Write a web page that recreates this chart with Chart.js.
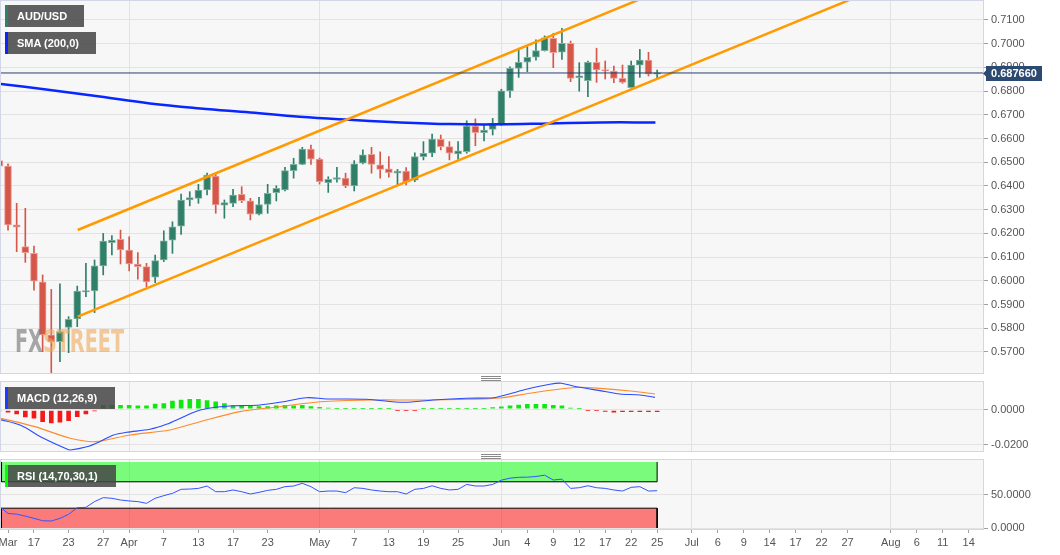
<!DOCTYPE html>
<html>
<head>
<meta charset="utf-8">
<title>AUD/USD</title>
<script src="https://cdn.jsdelivr.net/npm/chart.js@4.4.1/dist/chart.umd.min.js"></script>
<style>
  html, body { margin: 0; padding: 0; background: #fff; }
  body { position: relative; width: 1060px; height: 555px; overflow: hidden; font-family: "Liberation Sans", Arial, sans-serif; }
  canvas { position: absolute; left: 0; }
  .tag { position: absolute; left: 5px; height: 22px; line-height: 22px; box-sizing: border-box; padding-left: 9px; border-left: 3px solid; background: rgba(70,70,70,0.86); color: #fff; font-size: 11px; font-weight: bold; white-space: nowrap; }
  .grip { position: absolute; left: 481px; width: 20px; height: 3px; border-top: 1px solid #8a8a8a; border-bottom: 1px solid #8a8a8a; }
  .grip::after { content: ""; position: absolute; left: 0; right: 0; top: 1px; border-top: 1px solid #8a8a8a; }
</style>
</head>
<body>
<canvas id="main" width="1060" height="374" style="top:0"></canvas>
<canvas id="macd" width="1060" height="71" style="top:381px"></canvas>
<canvas id="rsi" width="1060" height="96" style="top:459px"></canvas>
<div class="tag" style="top:5px;width:79px;border-color:#2f7f69">AUD/USD</div>
<div class="tag" style="top:32px;width:91px;border-color:#0a26ff">SMA (200,0)</div>
<div class="tag" style="top:387px;width:110px;border-color:#1d3cff">MACD (12,26,9)</div>
<div class="tag" style="top:465px;width:111px;border-color:#00ff00">RSI (14,70,30,1)</div>
<div class="grip" style="top:376px"></div>
<div class="grip" style="top:454px"></div>
<script>
// daily candles, trading-day index: -1 = Mar 11, 0 = Mar 12 ... 75 = Jun 25
const firstDay = -1;
const opens = [0.6507, 0.6484, 0.6236, 0.6144, 0.6116, 0.5996, 0.5772, 0.5743, 0.5804, 0.5839,
  0.5953, 0.5958, 0.6063, 0.6161, 0.6175, 0.6130, 0.6071, 0.6060, 0.6015, 0.6088,
  0.6172, 0.6231, 0.6341, 0.6348, 0.6383, 0.6442, 0.6319, 0.6327, 0.6365, 0.6337,
  0.6281, 0.6322, 0.6372, 0.6383, 0.6465, 0.6491, 0.6556, 0.6513, 0.6414, 0.6428,
  0.6433, 0.6400, 0.6496, 0.6534, 0.6489, 0.6472, 0.6454, 0.6463, 0.6425, 0.6524,
  0.6538, 0.6597, 0.6566, 0.6535, 0.6545, 0.6653, 0.6625, 0.6639, 0.6657, 0.6801,
  0.6896, 0.6922, 0.6943, 0.6971, 0.7023, 0.6964, 0.7002, 0.6857, 0.6844, 0.6922,
  0.6889, 0.6885, 0.6854, 0.6815, 0.6910, 0.6931, 0.6872];
const highs = [0.6540, 0.6493, 0.6327, 0.6306, 0.6147, 0.6025, 0.5964, 0.5987, 0.5849, 0.5978,
  0.6074, 0.6088, 0.6200, 0.6191, 0.6214, 0.6186, 0.6119, 0.6074, 0.6109, 0.6211,
  0.6249, 0.6366, 0.6376, 0.6407, 0.6454, 0.6450, 0.6341, 0.6386, 0.6397, 0.6348,
  0.6352, 0.6407, 0.6401, 0.6479, 0.6517, 0.6563, 0.6573, 0.6518, 0.6439, 0.6479,
  0.6454, 0.6507, 0.6552, 0.6563, 0.6544, 0.6524, 0.6470, 0.6478, 0.6540, 0.6587,
  0.6619, 0.6615, 0.6587, 0.6587, 0.6675, 0.6683, 0.6657, 0.6685, 0.6808, 0.6903,
  0.6981, 0.6987, 0.7016, 0.7033, 0.7044, 0.7065, 0.7011, 0.6920, 0.6927, 0.6981,
  0.6927, 0.6906, 0.6910, 0.6927, 0.6976, 0.6964, 0.6889];
const lows = [0.6478, 0.6214, 0.6123, 0.6078, 0.5961, 0.5701, 0.5506, 0.5659, 0.5697, 0.5807,
  0.5933, 0.5866, 0.6025, 0.6109, 0.6071, 0.6042, 0.6007, 0.5975, 0.5992, 0.6081,
  0.6116, 0.6196, 0.6316, 0.6327, 0.6362, 0.6285, 0.6264, 0.6313, 0.6330, 0.6257,
  0.6278, 0.6285, 0.6337, 0.6379, 0.6433, 0.6490, 0.6491, 0.6408, 0.6373, 0.6416,
  0.6393, 0.6379, 0.6493, 0.6454, 0.6433, 0.6437, 0.6404, 0.6404, 0.6418, 0.6510,
  0.6524, 0.6552, 0.6510, 0.6513, 0.6538, 0.6570, 0.6590, 0.6615, 0.6655, 0.6774,
  0.6858, 0.6882, 0.6931, 0.6969, 0.6899, 0.6934, 0.6840, 0.6800, 0.6777, 0.6837,
  0.6851, 0.6836, 0.6833, 0.6812, 0.6858, 0.6864, 0.6851];
const closes = [0.6484, 0.6236, 0.6226, 0.6119, 0.5999, 0.5772, 0.5743, 0.5786, 0.5838, 0.5957,
  0.5958, 0.6063, 0.6168, 0.6172, 0.6130, 0.6071, 0.6060, 0.5996, 0.6085, 0.6169,
  0.6228, 0.6341, 0.6351, 0.6383, 0.6446, 0.6320, 0.6330, 0.6362, 0.6338, 0.6281,
  0.6322, 0.6369, 0.6390, 0.6465, 0.6491, 0.6556, 0.6513, 0.6418, 0.6428, 0.6435,
  0.6400, 0.6493, 0.6531, 0.6491, 0.6470, 0.6456, 0.6463, 0.6416, 0.6524, 0.6538,
  0.6598, 0.6566, 0.6538, 0.6548, 0.6653, 0.6625, 0.6636, 0.6664, 0.6801, 0.6896,
  0.6922, 0.6943, 0.6971, 0.7025, 0.6962, 0.7002, 0.6854, 0.6865, 0.6922, 0.6889,
  0.6885, 0.6854, 0.6837, 0.6910, 0.6931, 0.6872, 0.68766];
const lastPrice = 0.68766;

// 200-day SMA, read at a few points along the curve
const smaIdx = [-1, 4.85, 10.6, 16.4, 22.2, 28, 33.7, 39.5, 45.3, 51.1, 56.8, 62.6, 68.4, 74.8];
const smaVal = [0.6831, 0.6805, 0.6777, 0.6748, 0.6727, 0.6710, 0.6692, 0.6679, 0.6668, 0.6661, 0.6660, 0.6664, 0.6668, 0.6668];

// trend channel
const upperIdx = [8.05, 80];
const upperVal = [0.62144, 0.72922];
const lowerIdx = [8.05, 112];
const lowerVal = [0.58489, 0.74061];

// MACD (12,26,9)
const macdIdx = [-1, 1.4, 4.1, 6.8, 7.2, 9.1, 10.6, 12.2, 13.7, 16.4, 18.3, 20.3, 22.2, 24.5, 26.8, 29.1, 31.4,
  34.5, 36.8, 41.4, 45.7, 49.1, 53.0, 56.1, 57.6, 60, 62.6, 63.9, 65.7, 68.4, 70.7, 73, 74.75];
const macdVal = [-0.0055, -0.0087, -0.0162, -0.0223, -0.0228, -0.0210, -0.0181, -0.0143, -0.0128, -0.0111, -0.0083,
  -0.0040, -0.0002, 0.0017, 0.0023, 0.0027, 0.0042, 0.0068, 0.0061, 0.0059, 0.0042, 0.0055, 0.0065, 0.0068,
  0.0085, 0.0117, 0.0144, 0.0150, 0.0130, 0.0108, 0.0089, 0.0083, 0.0070];
const signalIdx = [-1, 3.1, 7.2, 10.1, 14.1, 18.7, 22.2, 26.8, 31.4, 36.1, 41.8, 47.6, 53.4, 56.8, 60.3, 63.8, 66.1, 68.4, 71.9, 74.75];
const signalVal = [-0.0047, -0.0096, -0.0162, -0.0181, -0.0143, -0.0115, -0.0068, -0.0011, 0.0017, 0.0045, 0.0055,
  0.0055, 0.0059, 0.0066, 0.0093, 0.0117, 0.0127, 0.0121, 0.0106, 0.0089];
const histVal = [-0.0012, -0.0019, -0.0030, -0.0047, -0.0053, -0.0074, -0.0081, -0.0077, -0.0068, -0.0045,
  -0.0030, -0.0011, 0.0030, 0.0030, 0.0030, 0.0030, 0.0028, 0.0028, 0.0037, 0.0040,
  0.0054, 0.0060, 0.0064, 0.0064, 0.0058, 0.0050, 0.0040, 0.0031, 0.0031, 0.0027,
  0.0024, 0.0024, 0.0027, 0.0030, 0.0027, 0.0030, 0.0024, 0.0019, 0.0015, 0.0010,
  0.0005, 0.0005, 0.0004, 0.0003, 0.0002, 0.0001, -0.0002, -0.0004, -0.0001, 0.0002,
  0.0004, 0.0003, 0.0004, 0.0005, 0.0006, 0.0008, 0.0010, 0.0018, 0.0022, 0.0027,
  0.0032, 0.0036, 0.0036, 0.0036, 0.0031, 0.0027, 0.0015, 0.0003, -0.0003, -0.0008,
  -0.0015, -0.0019, -0.0017, -0.0017, -0.0017, -0.0017, -0.0017];

// RSI (14)
const rsiVal = [33, 22, 21, 18, 14.6, 11, 10.6, 14.6, 20.7, 30.8,
  31.3, 40, 46, 45, 42.4, 41, 40, 37.4, 45, 49,
  52.5, 58.6, 59, 60, 63.6, 55, 55, 57.6, 55, 51.5,
  54, 57, 58.6, 62.6, 63.6, 67.7, 62.6, 55, 56, 56,
  53.5, 61, 60, 57.6, 56, 55, 55, 51.5, 58.6, 60,
  64, 60, 57.6, 58.6, 66, 63.6, 63.6, 66, 72.5, 75.5,
  76.8, 77, 78, 80, 72.7, 74, 60, 61, 64, 61,
  60, 57.6, 56, 61.6, 62.6, 56, 56.5];
const rsiHigh = 70, rsiLow = 30;

// axes
const priceTicks = [0.57, 0.58, 0.59, 0.60, 0.61, 0.62, 0.63, 0.64, 0.65, 0.66, 0.67, 0.68, 0.69, 0.70, 0.71];
const macdTicks = [-0.02, 0];
const rsiTicks = [0, 50];
const xTickIdx = [0, 3, 7, 11, 14, 18, 22, 26, 30, 36, 40, 44, 48, 52, 57, 60, 63, 66, 69, 72, 75,
  79, 82, 85, 88, 91, 94, 97, 102, 105, 108, 111];
const xTickTxt = ['Mar', '17', '23', '27', 'Apr', '7', '13', '17', '23', 'May', '7', '13', '19', '25', 'Jun', '4', '9', '12', '17', '22', '25',
  'Jul', '6', '9', '14', '17', '22', '27', 'Aug', '6', '11', '14'];
const monthIdx = [14, 36, 57, 79, 102];

const xMin = -0.81, xMax = 112.65;
const upCol = '#2f7f69', dnCol = '#d5574a';
const upEdge = '#7fb0a1', dnEdge = '#e9a197';

Chart.defaults.font.family = '"Liberation Sans", Arial, sans-serif';
Chart.defaults.font.size = 11;
Chart.defaults.color = '#555';

const dayIdx = opens.map((_, k) => firstDay + k);
const isUp = closes.map((c, k) => c >= opens[k]);
const pts = (xs, ys) => xs.map((x, k) => ({ x: x, y: ys[k] }));

const frame = {
  id: 'frame',
  beforeDraw(c) {
    const a = c.chartArea, g = c.ctx;
    g.save();
    g.fillStyle = '#f7f7f7';
    g.fillRect(a.left, a.top, a.right - a.left, a.bottom - a.top);
    g.restore();
  },
  afterDatasetsDraw(c) {
    const a = c.chartArea, g = c.ctx;
    g.save();
    g.strokeStyle = '#d3d6e6';
    g.lineWidth = 1;
    g.strokeRect(a.left - 0.5, a.top - 0.5, a.right - a.left + 1, a.bottom - a.top + 1);
    g.restore();
  }
};

function timeAxis(labels) {
  return {
    type: 'linear', min: xMin, max: xMax, offset: false,
    afterBuildTicks: s => { s.ticks = xTickIdx.map(v => ({ value: v })); },
    afterFit: s => { s.height = labels ? 26 : 0; s.paddingLeft = 0; s.paddingRight = 0; },
    border: { display: false },
    grid: {
      offset: false,
      color: c => (c.tick && monthIdx.includes(c.tick.value)) ? '#e2e2e2' : 'rgba(0,0,0,0)',
      drawTicks: labels, tickLength: 4, tickColor: '#a0a0a0'
    },
    ticks: {
      display: labels, autoSkip: false, maxRotation: 0, padding: 3, color: '#555',
      callback: v => xTickTxt[xTickIdx.indexOf(v)]
    }
  };
}

function sideAxis(min, max, ticks) {
  return {
    position: 'right', min: min, max: max, beginAtZero: false,
    afterBuildTicks: s => { s.ticks = ticks.map(v => ({ value: v })); },
    afterFit: s => { s.width = 77; s.paddingTop = 0; s.paddingBottom = 0; },
    border: { display: false },
    grid: { color: '#e3e3e3', tickLength: 5, tickColor: '#a0a0a0' },
    ticks: { padding: 3, color: '#555', callback: v => Number(v).toFixed(4) }
  };
}

const baseOpts = {
  responsive: false, animation: false, devicePixelRatio: 1, events: [],
  plugins: { legend: { display: false }, tooltip: { enabled: false } }
};

// ---------- price panel ----------
const mainExtras = {
  id: 'mainExtras',
  afterDatasetsDraw(c) {
    const g = c.ctx;
    g.save();
    g.font = 'bold 32px "DejaVu Sans Condensed", "DejaVu Sans", sans-serif';
    g.textBaseline = 'alphabetic';
    const w1 = g.measureText('FX').width, w2 = g.measureText('STREET').width;
    g.translate(15, 352);
    g.scale(109 / (w1 + w2), 1);
    g.fillStyle = 'rgba(115,115,120,0.62)';
    g.fillText('FX', 0, 0);
    g.fillStyle = 'rgba(238,165,85,0.58)';
    g.fillText('STREET', w1, 0);
    g.restore();
  },
  afterDraw(c) {
    const g = c.ctx, a = c.chartArea;
    const y = Math.round(c.scales.y.getPixelForValue(lastPrice));
    g.save();
    g.fillStyle = '#2c4a70';
    g.beginPath();
    g.moveTo(a.right, y + 0.5);
    g.lineTo(a.right + 4, y - 3.5);
    g.lineTo(a.right + 4, y + 4.5);
    g.closePath();
    g.fill();
    g.fillRect(a.right + 3, y - 7, 56, 15);
    g.fillStyle = '#fff';
    g.font = 'bold 11px "Liberation Sans", Arial, sans-serif';
    g.textAlign = 'center';
    g.textBaseline = 'middle';
    g.fillText(lastPrice.toFixed(6), a.right + 31, y + 1);
    g.restore();
  }
};

new Chart(document.getElementById('main'), {
  type: 'bar',
  data: {
    datasets: [
      { type: 'line', data: pts([-1, 113], [lastPrice, lastPrice]), borderColor: '#24416a', borderWidth: 1, pointRadius: 0, order: 0 },
      { type: 'line', data: pts(upperIdx, upperVal), borderColor: '#ff9a00', borderWidth: 2.5, pointRadius: 0, order: 1 },
      { type: 'line', data: pts(lowerIdx, lowerVal), borderColor: '#ff9a00', borderWidth: 2.5, pointRadius: 0, order: 1 },
      { type: 'line', data: pts(smaIdx, smaVal), borderColor: '#0a26ff', borderWidth: 2.5, pointRadius: 0, tension: 0.4, order: 2 },
      {
        data: dayIdx.map((x, k) => ({ x: x, y: [opens[k], closes[k]] })),
        backgroundColor: isUp.map(u => u ? upCol : dnCol),
        borderColor: isUp.map(u => u ? upEdge : dnEdge),
        borderWidth: 1, borderSkipped: false, barThickness: 7, minBarLength: 1.5, grouped: false, order: 3
      },
      {
        data: dayIdx.map((x, k) => ({ x: x, y: [lows[k], highs[k]] })),
        backgroundColor: isUp.map(u => u ? upCol : dnCol),
        barThickness: 1, grouped: false, order: 4
      }
    ]
  },
  options: Object.assign({}, baseOpts, {
    layout: { padding: { left: 1, top: 1, right: 0, bottom: 1 } },
    scales: { x: timeAxis(false), y: sideAxis(0.56114, 0.71801, priceTicks) }
  }),
  plugins: [frame, mainExtras]
});

// ---------- MACD panel ----------
new Chart(document.getElementById('macd'), {
  type: 'bar',
  data: {
    datasets: [
      { type: 'line', data: pts(macdIdx, macdVal), borderColor: '#2a4bff', borderWidth: 1.1, pointRadius: 0, tension: 0.3, order: 0 },
      { type: 'line', data: pts(signalIdx, signalVal), borderColor: '#ff8a2a', borderWidth: 1.1, pointRadius: 0, tension: 0.3, order: 1 },
      {
        data: dayIdx.map((x, k) => ({ x: x, y: histVal[k] })),
        backgroundColor: histVal.map(v => v >= 0 ? '#10e610' : '#f41a1a'),
        borderColor: 'rgba(255,255,255,0.35)', borderWidth: 1, borderSkipped: false,
        barThickness: 6, minBarLength: 1.5, order: 2
      }
    ]
  },
  options: Object.assign({}, baseOpts, {
    layout: { padding: { left: 1, top: 1, right: 0, bottom: 1 } },
    scales: { x: timeAxis(false), y: sideAxis(-0.0234, 0.01569, macdTicks) }
  }),
  plugins: [frame]
});

// ---------- RSI panel ----------
const bandStart = -0.75, bandEnd = dayIdx[dayIdx.length - 1];
new Chart(document.getElementById('rsi'), {
  type: 'line',
  data: {
    datasets: [
      { data: pts(dayIdx, rsiVal), borderColor: '#3355ff', borderWidth: 1, pointRadius: 0, tension: 0, order: 0 },
      {
        data: pts([bandStart, bandStart, bandEnd, bandEnd], [100, rsiHigh, rsiHigh, 100]),
        borderColor: '#000', borderWidth: 1, pointRadius: 0, fill: 'shape', backgroundColor: 'rgba(0,255,0,0.5)', order: 1
      },
      {
        data: pts([bandStart, bandStart, bandEnd, bandEnd], [0, rsiLow, rsiLow, 0]),
        borderColor: '#000', borderWidth: 1, pointRadius: 0, fill: 'shape', backgroundColor: 'rgba(255,0,0,0.5)', order: 1
      }
    ]
  },
  options: Object.assign({}, baseOpts, {
    layout: { padding: { left: 1, top: 1, right: 0, bottom: 0 } },
    scales: { x: timeAxis(true), y: sideAxis(-1.5, 103, rsiTicks) }
  }),
  plugins: [frame]
});
</script>
</body>
</html>
